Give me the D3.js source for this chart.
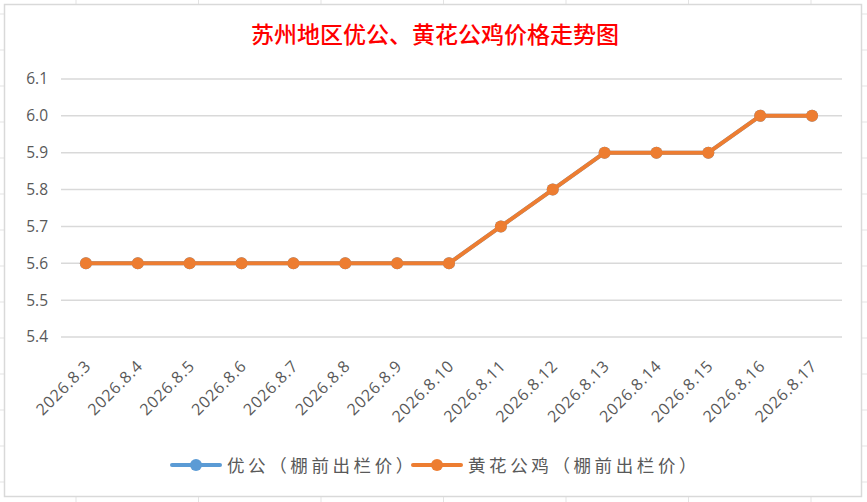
<!DOCTYPE html>
<html>
<head>
<meta charset="utf-8">
<script src="https://cdn.jsdelivr.net/npm/d3@7"></script>
<style>
  html, body { margin: 0; padding: 0; background: #fff; }
  svg { display: block; }
</style>
</head>
<body>
<div id="chart"></div>
<script>
const dates = ['2026.8.3', '2026.8.4', '2026.8.5', '2026.8.6', '2026.8.7', '2026.8.8', '2026.8.9',
  '2026.8.10', '2026.8.11', '2026.8.12', '2026.8.13', '2026.8.14', '2026.8.15', '2026.8.16', '2026.8.17'];
const youGong = [5.6, 5.6, 5.6, 5.6, 5.6, 5.6, 5.6, 5.6, 5.7, 5.8, 5.9, 5.9, 5.9, 6.0, 6.0];
const huangHua = [5.6, 5.6, 5.6, 5.6, 5.6, 5.6, 5.6, 5.6, 5.7, 5.8, 5.9, 5.9, 5.9, 6.0, 6.0];
const yTicks = [5.4, 5.5, 5.6, 5.7, 5.8, 5.9, 6.0, 6.1];
const seriesNames = ['优公（棚前出栏价）', '黄花公鸡（棚前出栏价）'];
const colors = ['#5B9BD5', '#ED7D31'];

const width = 867, height = 502;
const svg = d3.select('#chart').append('svg')
  .attr('width', width)
  .attr('height', height);

// spreadsheet cells behind the chart object
const bg = svg.append('g');
d3.range(76, width, 122.5).forEach(x => {
  bg.append('line').attr('x1', x).attr('x2', x).attr('y1', 0).attr('y2', height)
    .attr('stroke', '#e3e3e3').attr('stroke-width', 1);
});
d3.range(14, height, 36).forEach(y => {
  bg.append('line').attr('x1', 0).attr('x2', width).attr('y1', y).attr('y2', y)
    .attr('stroke', '#e3e3e3').attr('stroke-width', 1);
});

// chart object
svg.append('rect')
  .attr('x', 4.5).attr('y', 4.5)
  .attr('width', 857).attr('height', 492)
  .attr('fill', '#fff')
  .attr('stroke', '#d9d9d9')
  .attr('stroke-width', 1.5);

svg.append('text')
  .attr('x', 435).attr('y', 43)
  .attr('text-anchor', 'middle')
  .attr('fill', '#ff0000')
  .style('font-family', '"Noto Sans CJK SC", sans-serif')
  .style('font-size', '23px')
  .style('font-weight', '500')
  .text('苏州地区优公、黄花公鸡价格走势图');

const x = d3.scaleBand().domain(dates).range([60, 838]);
const y = d3.scaleLinear().domain([5.4, 6.1]).range([337, 79]);

// gridlines
svg.append('g')
  .selectAll('line')
  .data(yTicks)
  .join('line')
  .attr('x1', 61).attr('x2', 842)
  .attr('y1', d => y(d)).attr('y2', d => y(d))
  .attr('stroke', '#d9d9d9')
  .attr('stroke-width', 1.5);

const yAxis = svg.append('g')
  .attr('transform', 'translate(48,0)')
  .call(d3.axisLeft(y).tickValues(yTicks).tickFormat(d3.format('.1f')).tickSize(0).tickPadding(0));
yAxis.select('.domain').remove();
yAxis.selectAll('text')
  .attr('fill', '#595959')
  .style('font-family', '"Open Sans", sans-serif')
  .style('font-size', '15.5px');

const xAxis = svg.append('g')
  .attr('transform', 'translate(0,350)')
  .call(d3.axisBottom(x).tickSize(0).tickPadding(0));
xAxis.select('.domain').remove();
xAxis.selectAll('text')
  .attr('fill', '#595959')
  .style('font-family', '"Open Sans", sans-serif')
  .style('font-size', '16px')
  .style('letter-spacing', '0.8px')
  .attr('text-anchor', 'end')
  .attr('dy', null)
  .attr('y', 0)
  .attr('transform', 'translate(6,17) rotate(-45)');

const line = d3.line()
  .x((d, i) => x(dates[i]) + x.bandwidth() / 2)
  .y(d => y(d));

[youGong, huangHua].forEach((vals, k) => {
  const g = svg.append('g');
  g.append('path')
    .datum(vals)
    .attr('d', line)
    .attr('fill', 'none')
    .attr('stroke', colors[k])
    .attr('stroke-width', 4)
    .attr('stroke-linejoin', 'round');
  g.selectAll('circle')
    .data(vals)
    .join('circle')
    .attr('cx', (d, i) => x(dates[i]) + x.bandwidth() / 2)
    .attr('cy', d => y(d))
    .attr('r', 6)
    .attr('fill', colors[k]);
});

// legend
const legendX = [172, 413];
seriesNames.forEach((name, k) => {
  const g = svg.append('g').attr('transform', `translate(${legendX[k]},465)`);
  g.append('line').attr('x1', 0).attr('x2', 48).attr('y1', 0).attr('y2', 0)
    .attr('stroke', colors[k]).attr('stroke-width', 4).attr('stroke-linecap', 'round');
  g.append('circle').attr('cx', 24).attr('cy', 0).attr('r', 6).attr('fill', colors[k]);
  g.append('text')
    .attr('x', 55).attr('y', 6.5)
    .attr('fill', '#595959')
    .style('font-family', '"Noto Sans CJK SC", sans-serif')
    .style('font-size', '17.5px')
    .style('letter-spacing', '3.6px')
    .text(name);
});
</script>
</body>
</html>
